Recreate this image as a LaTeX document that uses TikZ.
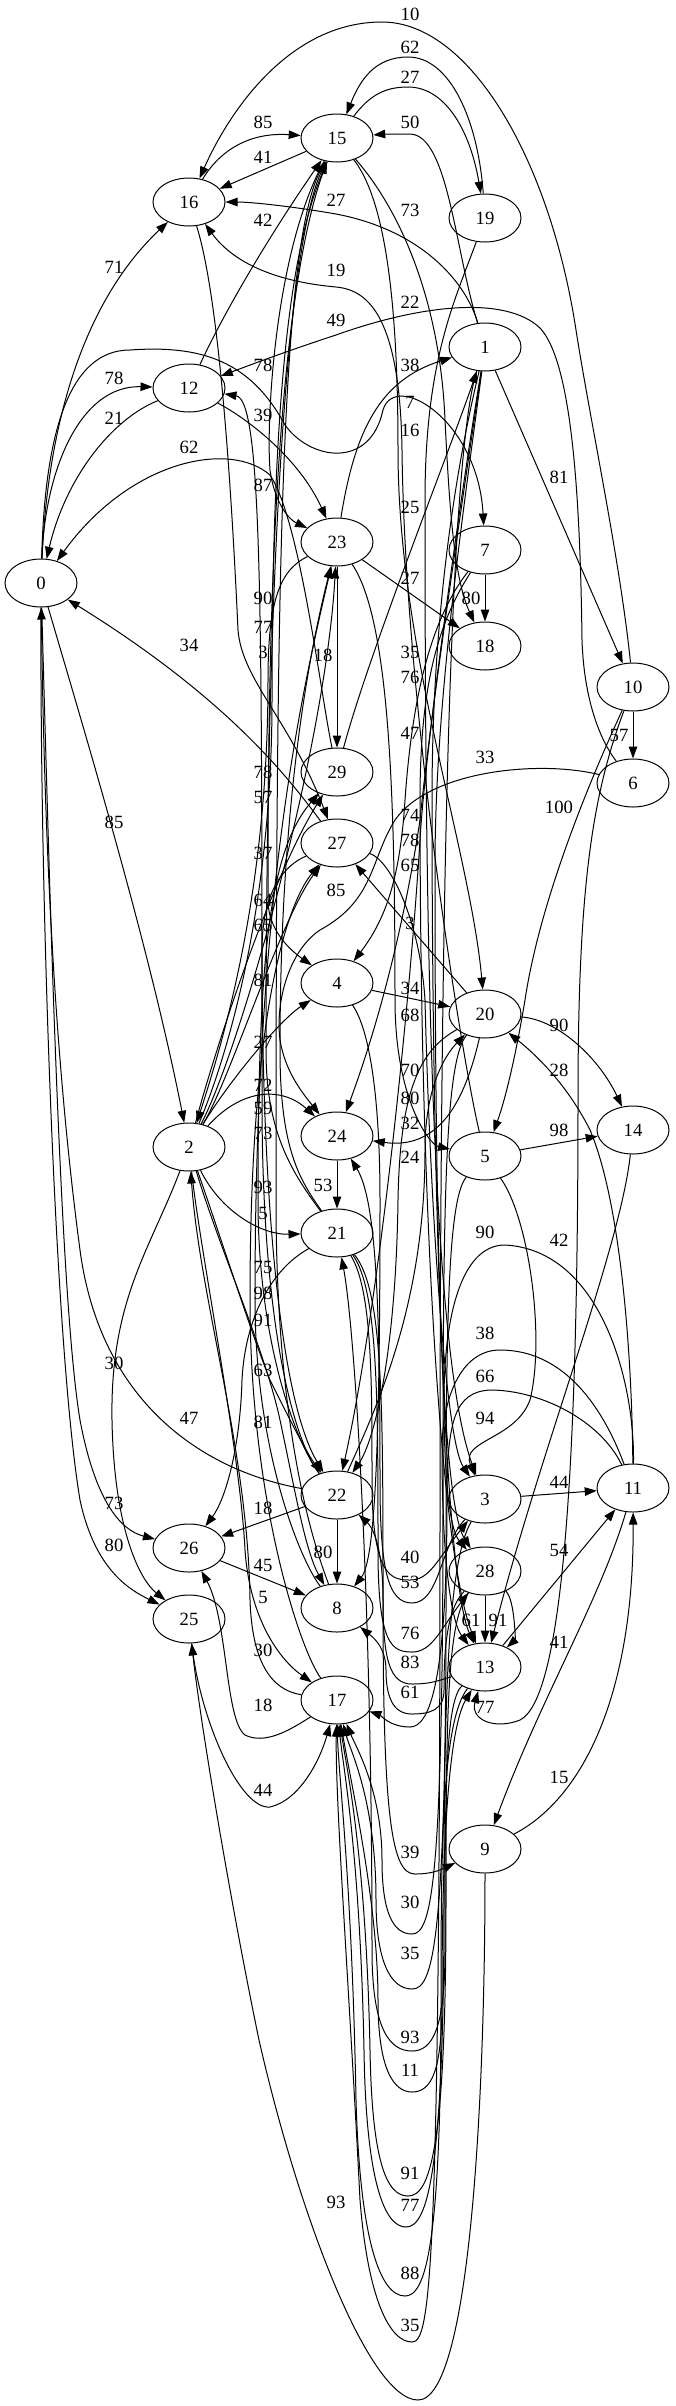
\documentclass[tikz,border=0pt]{standalone}
\usepackage{fontspec}
\setmainfont{Liberation Serif}
\usetikzlibrary{arrows.meta,shapes.geometric}

\begin{document}
\begin{tikzpicture}[
  x=1pt,y=-1pt,
  font=\fontsize{18.7}{20}\selectfont,
  vx/.style={ellipse,draw,line width=1pt,minimum width=72pt,minimum height=48pt,inner sep=0pt},
  lbl/.style={inner sep=0pt},
  link/.style={-{Triangle[length=12pt,width=8.5pt]},line width=1pt}
]
\useasboundingbox (0,0) rectangle (675,2406);

% Vertices
\foreach \n/\x/\y in {0/41/583, 1/485/347, 2/189/1147, 3/485/1499, 4/337/983, 5/485/1156,
    6/633/783, 7/485/550, 8/337/1608, 9/485/1849, 10/633/687, 11/633/1488, 12/189/388,
    13/485/1667, 14/633/1130, 15/337/138, 16/189/202, 17/337/1700, 18/485/646, 19/485/218,
    20/485/1014, 21/337/1233, 22/337/1495, 23/337/542, 24/337/1136, 25/189/1619,
    26/189/1548, 27/337/843, 28/485/1571, 29/337/772} {
  \node[vx] (n\n) at (\x,\y) {\n};
}

% Weights
\foreach \t/\x/\y [count=\i] in {10/410/14, 62/410/47, 27/410/77, 85/263/122, 50/410/122,
    41/263/157, 27/336/200, 73/410/210, 42/263/220, 71/114/267, 19/336/270, 22/410/302,
    49/336/320, 78/263/365, 38/410/365, 78/114/378, 7/410/402, 39/263/415, 21/114/418,
    16/410/430, 62/189/447, 81/559/477, 87/263/485, 25/410/507, 27/410/578, 80/471/598,
    90/263/598, 77/263/627, 34/189/645, 35/410/652, 3/263/652, 18/323/655, 76/410/677,
    47/410/733, 57/619/735, 33/485/757, 78/263/772, 57/263/797, 100/559/807, 74/410/815,
    85/114/822, 78/410/840, 37/263/853, 65/410/865, 85/336/890, 64/263/900, 65/263/925,
    3/410/923, 81/263/980, 34/410/988, 68/410/1015, 90/559/1025, 27/263/1042, 28/559/1070,
    70/410/1070, 72/263/1085, 80/410/1098, 59/263/1108, 98/559/1130, 32/410/1123,
    73/263/1133, 24/410/1157, 53/323/1185, 93/263/1187, 5/263/1213, 90/485/1232,
    42/559/1240, 75/263/1267, 98/263/1293, 91/263/1320, 38/485/1333, 30/114/1363,
    63/263/1370, 66/485/1376, 47/189/1418, 81/263/1422, 94/485/1418, 44/559/1482,
    73/114/1503, 18/263/1508, 80/114/1545, 80/323/1552, 40/410/1557, 45/263/1565,
    54/559/1550, 53/410/1582, 5/263/1597, 61/471/1620, 91/498/1620, 76/410/1633,
    41/559/1642, 30/263/1650, 83/410/1662, 61/410/1692, 18/263/1705, 77/485/1707,
    15/559/1777, 44/263/1790, 39/410/1852, 30/410/1902, 35/410/1953, 93/410/2037,
    11/410/2070, 91/410/2173, 93/336/2202, 77/410/2205, 88/410/2273, 35/410/2325} {
  \node[lbl] (l\i) at (\x,\y) {\t};
}

% Top
\draw[link] (n10) .. controls (620,560) and (590,420) .. (576,330) .. controls (550,160) and (470,22) .. (382,22) .. controls (290,22) and (230,110) .. (n16);
\draw[link] (n19) .. controls (478,120) and (450,57) .. (408,57) .. controls (375,57) and (360,80) .. (n15);
\draw[link] (n15) .. controls (370,95) and (385,87) .. (408,87) .. controls (445,87) and (470,130) .. (n19);
\draw[link] (n16) .. controls (220,150) and (250,132) .. (n15);
\draw[link] (n15) -- (n16);
\draw[link] (n1) .. controls (455,250) and (448,135) .. (410,134) .. controls (395,134) and (385,134) .. (n15);
\draw[link] (n1) .. controls (465,280) and (420,230) .. (336,214) .. controls (290,206) and (250,202) .. (n16);
\draw[link] (n15) .. controls (400,210) and (440,300) .. (445,420) .. controls (450,520) and (455,580) .. (n18);
\draw[link] (n12) .. controls (230,300) and (280,220) .. (n15);
\draw[link] (n0) .. controls (48,420) and (85,300) .. (n16);
\draw[link] (n0) .. controls (45,470) and (80,385) .. (n12);
\draw[link] (n12) .. controls (110,420) and (65,480) .. (n0);
\draw[link] (n0) .. controls (45,430) and (70,350) .. (130,350) .. controls (200,345) and (250,360) .. (285,425) .. controls (310,460) and (370,470) .. (383,410) .. controls (395,370) and (478,420) .. (n7);
\draw[link] (n29) .. controls (320,690) and (300,520) .. (270,475) .. controls (230,440) and (130,460) .. (n0);
\draw[link] (n27) .. controls (290,780) and (230,700) .. (n0);
\draw[link] (n16) .. controls (220,300) and (232,500) .. (238,630) .. controls (242,680) and (290,720) .. (n27);
\draw[link] (n6) .. controls (600,740) and (584,700) .. (582,640) .. controls (580,480) and (570,360) .. (540,328) .. controls (505,295) and (420,305) .. (336,335) .. controls (290,350) and (250,365) .. (n12);
\draw[link] (n19) .. controls (455,300) and (425,360) .. (425,500) .. controls (425,900) and (430,1350) .. (n3);
\draw[link] (n12) .. controls (250,420) and (300,460) .. (n23);
\draw[link] (n23) .. controls (355,430) and (380,380) .. (n1);
\draw[link] (n23) -- (n18);
\draw[link] (n7) -- (n18);
\draw[link] (n1) -- (n10);
\draw[link] (n10) -- (n6);
\draw[link] (n23) -- (n29);
\draw[link] (n29) .. controls (370,650) and (450,450) .. (n1);
\draw[link] (n15) .. controls (275,250) and (266,420) .. (270,470) .. controls (275,505) and (290,520) .. (n23);
\draw[link] (n15) .. controls (385,200) and (398,300) .. (398,450) .. controls (398,650) and (470,850) .. (n20);
\draw[link] (n5) .. controls (460,1050) and (405,700) .. (402,450) .. controls (400,320) and (370,290) .. (336,287) .. controls (280,282) and (235,265) .. (n16);

% Middle
\draw[link] (n7) .. controls (430,620) and (412,700) .. (405,800) .. controls (400,880) and (385,920) .. (n4);
\draw[link] (n7) .. controls (440,620) and (420,680) .. (420,800) .. controls (420,1200) and (440,1550) .. (n13);
\draw[link] (n1) .. controls (460,450) and (432,600) .. (432,800) .. controls (432,1200) and (445,1580) .. (n13);
\draw[link] (n1) .. controls (455,550) and (430,720) .. (420,820) .. controls (405,920) and (380,1020) .. (n24);
\draw[link] (n1) .. controls (460,500) and (425,750) .. (420,840) .. controls (410,1000) and (380,1300) .. (n22);
\draw[link] (n1) .. controls (465,500) and (435,700) .. (435,865) .. controls (435,1200) and (440,1500) .. (n28);
\draw[link] (n27) .. controls (390,860) and (420,920) .. (425,1000) .. controls (430,1200) and (445,1440) .. (n3);
\draw[link] (n4) -- (n20);
\draw[link] (n4) .. controls (370,1030) and (380,1100) .. (380,1200) .. controls (380,1450) and (375,1560) .. (n8);
\draw[link] (n20) .. controls (420,1050) and (400,1090) .. (398,1200) .. controls (396,1350) and (375,1440) .. (n22);
\draw[link] (n23) .. controls (390,620) and (395,800) .. (395,1000) .. controls (395,1100) and (430,1145) .. (n5);
\draw[link] (n20) .. controls (465,1100) and (440,1150) .. (n24);
\draw[link] (n22) .. controls (380,1400) and (425,1300) .. (425,1150) .. controls (425,1080) and (450,1050) .. (n20);
\draw[link] (n15) .. controls (270,300) and (268,700) .. (268,900) .. controls (268,930) and (290,950) .. (n4);
\draw[link] (n20) -- (n27);
\draw[link] (n6) .. controls (540,760) and (430,770) .. (395,820) .. controls (370,860) and (375,900) .. (320,930) .. controls (290,950) and (275,1000) .. (280,1040) .. controls (285,1070) and (300,1090) .. (n24);
\draw[link] (n0) .. controls (90,750) and (150,950) .. (n2);
\draw[link] (n23) .. controls (280,570) and (268,600) .. (268,680) .. controls (268,900) and (220,1050) .. (n2);
\draw[link] (n2) .. controls (230,1050) and (272,900) .. (272,700) .. controls (272,400) and (290,250) .. (n15);
\draw[link] (n2) .. controls (215,1050) and (270,880) .. (n29);
\draw[link] (n8) .. controls (320,1560) and (276,1450) .. (276,1200) .. controls (276,600) and (280,250) .. (n15);
\draw[link] (n27) .. controls (285,865) and (262,890) .. (262,950) .. controls (262,1200) and (280,1400) .. (n22);
\draw[link] (n2) .. controls (230,1080) and (280,920) .. (n27);
\draw[link] (n2) .. controls (240,1050) and (325,750) .. (n23);
\draw[link] (n2) .. controls (230,1080) and (280,1020) .. (n4);
\draw[link] (n2) .. controls (240,1090) and (280,1085) .. (n24);
\draw[link] (n21) .. controls (290,1170) and (266,1130) .. (266,1050) .. controls (266,600) and (285,250) .. (n15);
\draw[link] (n21) .. controls (300,1180) and (280,1150) .. (280,1050) .. controls (280,800) and (310,650) .. (n23);
\draw[link] (n24) -- (n21);
\draw[link] (n17) .. controls (300,1650) and (250,1500) .. (250,1300) .. controls (250,1000) and (290,900) .. (n27);
\draw[link] (n2) .. controls (220,1210) and (260,1235) .. (n21);
\draw[link] (n22) .. controls (300,1450) and (258,1350) .. (258,1200) .. controls (258,950) and (270,850) .. (n29);
\draw[link] (n21) .. controls (270,1270) and (245,1320) .. (242,1380) .. controls (240,1450) and (225,1500) .. (n26);
\draw[link] (n8) .. controls (300,1560) and (255,1450) .. (255,1300) .. controls (255,900) and (300,700) .. (n23);
\draw[link] (n22) .. controls (300,1450) and (262,1350) .. (262,1100) .. controls (262,600) and (262,400) .. (n12);

% Lower left
\draw[link] (n2) .. controls (215,1220) and (250,1330) .. (270,1380) .. controls (290,1420) and (305,1450) .. (n22);
\draw[link] (n2) .. controls (220,1250) and (265,1350) .. (280,1420) .. controls (295,1490) and (305,1550) .. (n8);
\draw[link] (n22) -- (n8);
\draw[link] (n22) -- (n26);
\draw[link] (n26) -- (n8);
\draw[link] (n2) .. controls (200,1250) and (240,1450) .. (245,1550) .. controls (250,1620) and (280,1660) .. (n17);
\draw[link] (n17) .. controls (270,1690) and (252,1660) .. (250,1600) .. controls (248,1450) and (200,1300) .. (n2);
\draw[link] (n17) .. controls (290,1730) and (265,1745) .. (245,1735) .. controls (225,1720) and (228,1620) .. (n26);
\draw[link] (n25) .. controls (200,1720) and (240,1810) .. (270,1807) .. controls (300,1800) and (320,1760) .. (n17);
\draw[link] (n22) .. controls (200,1470) and (100,1400) .. (80,1250) .. controls (60,1100) and (45,900) .. (n0);
\draw[link] (n0) .. controls (50,900) and (60,1300) .. (80,1420) .. controls (95,1500) and (120,1530) .. (n26);
\draw[link] (n0) .. controls (40,900) and (55,1350) .. (80,1500) .. controls (95,1570) and (130,1590) .. (n25);
\draw[link] (n2) .. controls (150,1250) and (110,1300) .. (112,1420) .. controls (114,1530) and (140,1580) .. (n25);

% Right
\draw[link] (n20) .. controls (560,1020) and (600,1060) .. (n14);
\draw[link] (n11) .. controls (632,1350) and (620,1200) .. (590,1130) .. controls (565,1080) and (530,1050) .. (n20);
\draw[link] (n5) -- (n14);
\draw[link] (n10) .. controls (590,780) and (540,900) .. (525,1000) .. controls (515,1060) and (505,1100) .. (n5);
\draw[link] (n10) .. controls (590,800) and (578,900) .. (578,1100) .. controls (578,1500) and (560,1700) .. (520,1720) .. controls (495,1730) and (470,1720) .. (n13);
\draw[link] (n11) .. controls (600,1600) and (540,1700) .. (n9);
\draw[link] (n9) .. controls (580,1800) and (634,1700) .. (n11);
\draw[link] (n3) -- (n11);
\draw[link] (n13) -- (n11);
\draw[link] (n14) .. controls (620,1250) and (540,1450) .. (n13);
\draw[link] (n28) -- (n13);
\draw[link] (n28) .. controls (515,1600) and (515,1640) .. (n13);
\draw[link] (n11) .. controls (635,1380) and (600,1250) .. (505,1245) .. controls (460,1245) and (444,1320) .. (444,1400) .. controls (444,1480) and (450,1530) .. (n28);
\draw[link] (n11) .. controls (600,1400) and (560,1350) .. (500,1350) .. controls (460,1350) and (442,1400) .. (442,1450) .. controls (442,1550) and (450,1620) .. (n13);
\draw[link] (n11) .. controls (600,1420) and (540,1390) .. (490,1390) .. controls (455,1392) and (447,1420) .. (447,1500) .. controls (447,1680) and (430,1727) .. (410,1727) .. controls (390,1727) and (380,1715) .. (n17);
\draw[link] (n5) .. controls (530,1220) and (545,1340) .. (530,1400) .. controls (515,1440) and (460,1440) .. (n3);

% Short loops
\draw[link] (n21) .. controls (372,1290) and (372,1380) .. (372,1480) .. controls (372,1578) and (392,1580) .. (410,1580) .. controls (430,1580) and (437,1560) .. (n3);
\draw[link] (n3) .. controls (440,1545) and (440,1603) .. (412,1603) .. controls (388,1603) and (380,1570) .. (380,1480) .. controls (380,1300) and (376,1200) .. (n24);
\draw[link] (n21) .. controls (378,1290) and (378,1400) .. (378,1550) .. controls (378,1645) and (392,1652) .. (412,1652) .. controls (432,1652) and (440,1630) .. (n28);
\draw[link] (n13) .. controls (440,1680) and (432,1684) .. (412,1684) .. controls (390,1684) and (383,1660) .. (383,1600) .. controls (383,1540) and (370,1525) .. (n22);
\draw[link] (n28) .. controls (445,1610) and (444,1660) .. (444,1690) .. controls (444,1710) and (430,1714) .. (412,1714) .. controls (392,1714) and (386,1695) .. (386,1670) .. controls (386,1645) and (370,1635) .. (n8);

% Long loops
\draw[link] (n21) .. controls (383,1290) and (383,1400) .. (383,1600) .. controls (383,1820) and (392,1874) .. (415,1874) .. controls (432,1874) and (440,1870) .. (n9);
\draw[link] (n20) .. controls (445,1060) and (443,1200) .. (443,1500) .. controls (443,1880) and (432,1934) .. (412,1934) .. controls (392,1934) and (382,1910) .. (382,1860) .. controls (382,1790) and (355,1745) .. (n17);
\draw[link] (n5) .. controls (446,1200) and (446,1350) .. (446,1600) .. controls (446,1950) and (432,1989) .. (412,1989) .. controls (390,1989) and (376,1960) .. (376,1900) .. controls (376,1800) and (350,1750) .. (n17);
\draw[link] (n13) .. controls (445,1700) and (445,1800) .. (445,1950) .. controls (445,2030) and (432,2051) .. (412,2051) .. controls (390,2051) and (372,2030) .. (372,1950) .. controls (372,1600) and (355,1330) .. (n21);
\draw[link] (n17) .. controls (350,1780) and (378,1900) .. (378,2000) .. controls (378,2070) and (394,2092) .. (412,2092) .. controls (432,2092) and (442,2070) .. (442,2000) .. controls (442,1850) and (448,1730) .. (n13);
\draw[link] (n28) .. controls (448,1620) and (446,1700) .. (446,1900) .. controls (446,2150) and (430,2196) .. (408,2196) .. controls (386,2196) and (372,2160) .. (370,2050) .. controls (366,1850) and (345,1760) .. (n17);
\draw[link] (n3) .. controls (448,1560) and (444,1700) .. (444,1900) .. controls (444,2170) and (428,2227) .. (406,2227) .. controls (384,2227) and (366,2180) .. (364,2050) .. controls (360,1850) and (342,1760) .. (n17);
\draw[link] (n13) .. controls (442,1720) and (441,1850) .. (441,2000) .. controls (441,2250) and (425,2296) .. (405,2296) .. controls (380,2296) and (360,2240) .. (356,2100) .. controls (352,1880) and (338,1770) .. (n17);
\draw[link] (n1) .. controls (450,450) and (440,900) .. (440,1500) .. controls (440,2280) and (430,2342) .. (412,2342) .. controls (390,2342) and (368,2300) .. (360,2200) .. controls (350,2000) and (335,1800) .. (n17);
\draw[link] (n9) .. controls (485,2100) and (470,2400) .. (418,2400) .. controls (370,2400) and (300,2220) .. (259,2040) .. controls (230,1900) and (200,1720) .. (n25);
\end{tikzpicture}
\end{document}
